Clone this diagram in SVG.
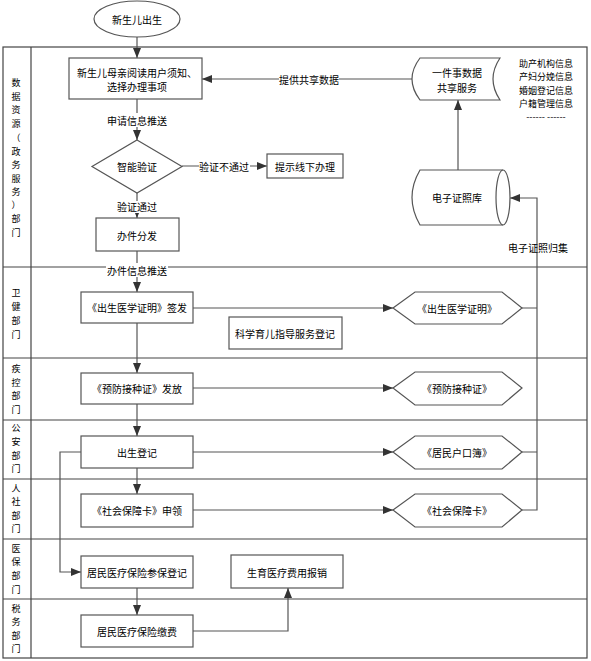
<svg xmlns="http://www.w3.org/2000/svg" width="591" height="661" viewBox="0 0 591 661">
<style>
text{font-family:"Noto Sans CJK SC","Liberation Sans",sans-serif;font-size:10px;fill:#000;text-anchor:middle;dominant-baseline:central}
.lane{font-size:9px}
.sm{font-size:9px}
.box{fill:#fff;stroke:#555;stroke-width:1.2}
.ln{stroke:#444;stroke-width:1.2;fill:none}
.c{stroke:#555;stroke-width:1.2;fill:none}
.a{marker-end:url(#ar)}
.bg{fill:#fff}
</style>
<defs>
<marker id="ar" markerUnits="userSpaceOnUse" markerWidth="10" markerHeight="10" viewBox="0 0 10 10" refX="10" refY="5" orient="auto">
<path d="M0,1 L10,5 L0,9 Z" fill="#333"/>
</marker>
</defs>
<rect width="591" height="661" fill="#fff"/>
<g id="lanes">
<rect x="3" y="47" width="584" height="611" class="ln"/>
<line x1="31" y1="47" x2="31" y2="658" class="ln" stroke="#777"/>
<line x1="3" y1="267" x2="587" y2="267" class="ln"/>
<line x1="3" y1="358" x2="587" y2="358" class="ln"/>
<line x1="3" y1="420" x2="587" y2="420" class="ln" stroke-width="2"/>
<line x1="3" y1="479" x2="587" y2="479" class="ln"/>
<line x1="3" y1="539" x2="587" y2="539" class="ln"/>
<line x1="3" y1="599" x2="587" y2="599" class="ln"/>
<g class="lane-labels">
<text class="lane" x="16" y="82">数</text><text class="lane" x="16" y="96">据</text><text class="lane" x="16" y="109">资</text><text class="lane" x="16" y="123">源</text><text class="lane" x="16" y="137">（</text><text class="lane" x="16" y="151">政</text><text class="lane" x="16" y="164">务</text><text class="lane" x="16" y="178">服</text><text class="lane" x="16" y="191">务</text><text class="lane" x="16" y="204">）</text><text class="lane" x="16" y="218">部</text><text class="lane" x="16" y="232">门</text>
<text class="lane" x="16" y="292">卫</text><text class="lane" x="16" y="306">健</text><text class="lane" x="16" y="320">部</text><text class="lane" x="16" y="334">门</text>
<text class="lane" x="16" y="368">疾</text><text class="lane" x="16" y="382">控</text><text class="lane" x="16" y="395">部</text><text class="lane" x="16" y="409">门</text>
<text class="lane" x="16" y="427">公</text><text class="lane" x="16" y="441">安</text><text class="lane" x="16" y="455">部</text><text class="lane" x="16" y="468">门</text>
<text class="lane" x="16" y="488">人</text><text class="lane" x="16" y="501">社</text><text class="lane" x="16" y="515">部</text><text class="lane" x="16" y="528">门</text>
<text class="lane" x="16" y="548">医</text><text class="lane" x="16" y="561">保</text><text class="lane" x="16" y="575">部</text><text class="lane" x="16" y="589">门</text>
<text class="lane" x="16" y="608">税</text><text class="lane" x="16" y="621">务</text><text class="lane" x="16" y="635">部</text><text class="lane" x="16" y="648">门</text>
</g>
</g>
<g id="connectors">
<line x1="137" y1="37" x2="137" y2="58" class="c a"/>
<line x1="412" y1="79" x2="202" y2="79" class="c a"/>
<line x1="137" y1="99" x2="137" y2="140" class="c a"/>
<line x1="182" y1="166" x2="267" y2="166" class="c a"/>
<line x1="137" y1="193" x2="137" y2="218" class="c a"/>
<line x1="137" y1="251" x2="137" y2="292" class="c a"/>
<line x1="137" y1="323" x2="137" y2="373" class="c a"/>
<line x1="137" y1="404" x2="137" y2="436" class="c a"/>
<line x1="137" y1="468" x2="137" y2="494" class="c a"/>
<line x1="137" y1="588" x2="137" y2="615" class="c a"/>
<line x1="193" y1="308" x2="393" y2="308" class="c a"/>
<line x1="193" y1="388" x2="393" y2="388" class="c a"/>
<line x1="193" y1="452" x2="393" y2="452" class="c a"/>
<line x1="193" y1="510" x2="393" y2="510" class="c a"/>
<path d="M522,510 H537 V198 H510" class="c a" stroke-width="1.6"/>
<path d="M522,308 H537 M522,452 H537" class="c"/>
<line x1="458" y1="170" x2="458" y2="100" class="c a"/>
<path d="M81,452 H60 V572 H81" class="c a"/>
<path d="M193,631 H288 V588" class="c a"/>
<rect x="279" y="72" width="60" height="14" class="bg"/>
<text x="309" y="79">提供共享数据</text>
<rect x="107" y="113" width="61" height="14" class="bg"/>
<text x="137" y="120">申请信息推送</text>
<rect x="199" y="159" width="51" height="14" class="bg"/>
<text x="224" y="166">验证不通过</text>
<rect x="116" y="201" width="42" height="12" class="bg"/>
<text x="137" y="206">验证通过</text>
<rect x="106" y="263" width="62" height="14" class="bg"/>
<text x="137" y="270">办件信息推送</text>
<text x="538" y="247">电子证照归集</text>
</g>
<g id="n-start"><ellipse cx="137" cy="19" rx="43" ry="18" class="box"/><text x="137" y="19">新生儿出生</text></g>
<g id="n-read"><rect x="69" y="58" width="133" height="41" class="box"/><text x="137" y="72">新生儿母亲阅读用户须知、</text><text x="137" y="86">选择办理事项</text></g>
<g id="n-share"><path d="M420,58 H500 Q486,79 500,100 H420 Q404,79 420,58 Z" class="box"/><text x="457" y="72">一件事数据</text><text x="457" y="87">共享服务</text></g>
<g id="n-info"><text class="sm" x="546" y="63">助产机构信息</text><text class="sm" x="546" y="76">产妇分娩信息</text><text class="sm" x="546" y="90">婚姻登记信息</text><text class="sm" x="546" y="103">户籍管理信息</text><text class="sm" x="546" y="116">------ ------</text></g>
<g id="n-verify"><path d="M137,140 L182,166.5 L137,193 L92,166.5 Z" class="box"/><text x="137" y="166">智能验证</text></g>
<g id="n-offline"><rect x="267" y="154" width="76" height="24" class="box"/><text x="305" y="166">提示线下办理</text></g>
<g id="n-dispatch"><rect x="96" y="218" width="83" height="33" class="box"/><text x="137" y="235">办件分发</text></g>
<g id="n-certdb"><path d="M420,170 H503 A7,27.5 0 0 1 503,225 H420 Q404,197.5 420,170 Z" class="box"/><path d="M503,170 A7,27.5 0 0 0 503,225" class="c"/><text x="457" y="197">电子证照库</text></g>
<g id="n-birthcert"><rect x="81" y="292" width="112" height="31" class="box"/><text x="137" y="307">《出生医学证明》签发</text></g>
<g id="n-parenting"><rect x="229" y="317" width="113" height="32" class="box"/><text x="285" y="333">科学育儿指导服务登记</text></g>
<g id="n-birthcert-doc"><path d="M393,308 L415,292 H502 L522,308 L502,324 H415 Z" class="box"/><text x="457" y="308">《出生医学证明》</text></g>
<g id="n-vacc"><rect x="81" y="373" width="112" height="31" class="box"/><text x="137" y="388">《预防接种证》发放</text></g>
<g id="n-vacc-doc"><path d="M393,388 L415,372 H502 L522,388 L502,405 H415 Z" class="box"/><text x="457" y="388">《预防接种证》</text></g>
<g id="n-birthreg"><rect x="81" y="436" width="112" height="32" class="box"/><text x="137" y="452">出生登记</text></g>
<g id="n-hukou"><path d="M393,452 L415,436 H502 L522,452 L502,469 H415 Z" class="box"/><text x="457" y="452">《居民户口簿》</text></g>
<g id="n-sscard"><rect x="81" y="494" width="112" height="33" class="box"/><text x="137" y="510">《社会保障卡》申领</text></g>
<g id="n-sscard-doc"><path d="M393,510 L415,494 H502 L522,510 L502,527 H415 Z" class="box"/><text x="457" y="510">《社会保障卡》</text></g>
<g id="n-insreg"><rect x="81" y="556" width="112" height="32" class="box"/><text x="137" y="572">居民医疗保险参保登记</text></g>
<g id="n-reimb"><rect x="231" y="555" width="112" height="33" class="box"/><text x="287" y="572">生育医疗费用报销</text></g>
<g id="n-inspay"><rect x="81" y="615" width="112" height="32" class="box"/><text x="137" y="631">居民医疗保险缴费</text></g>
</svg>
